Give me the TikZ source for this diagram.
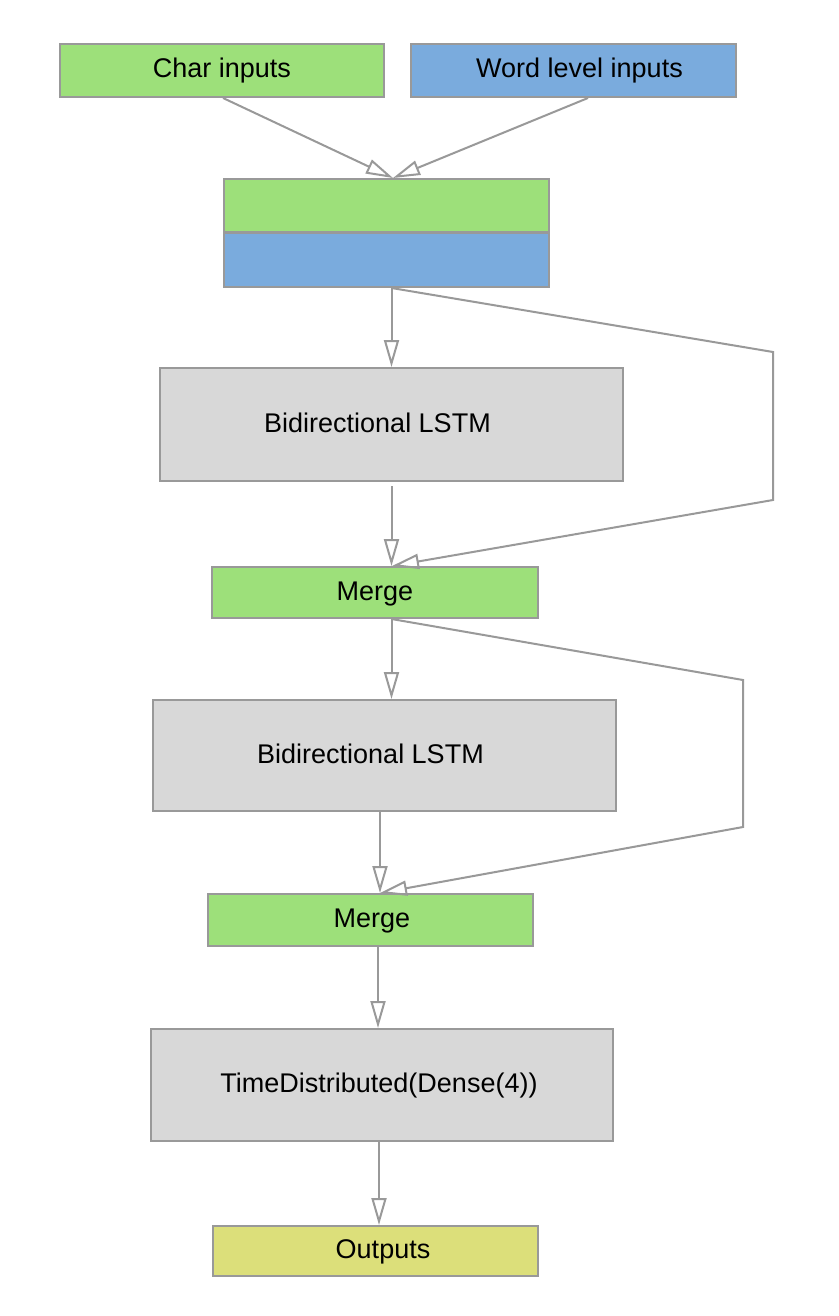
\documentclass[tikz,border=0pt]{standalone}
\usepackage{fontspec}
\setmainfont{Liberation Sans}
\usetikzlibrary{arrows.meta}
\definecolor{edgegray}{RGB}{153,153,153}
\definecolor{chargreen}{RGB}{157,224,122}
\definecolor{wordblue}{RGB}{122,171,221}
\definecolor{lstmgray}{RGB}{216,216,216}
\definecolor{outyellow}{RGB}{220,223,122}
\tikzset{
	layer/.style    = {draw=edgegray, line width=2pt, rectangle, inner sep=0pt,
		text=black, text height=20pt, text depth=5pt,
		font=\fontsize{27}{32}\selectfont},
	inbox/.style    = {layer, minimum width=325pt, minimum height=53pt},
	green/.style    = {inbox, fill=chargreen},
	blue/.style     = {inbox, fill=wordblue},
	lstm/.style     = {layer, fill=lstmgray, minimum width=463pt, minimum height=112pt},
	merge/.style    = {layer, fill=chargreen, minimum width=325pt, minimum height=51pt},
	outbox/.style   = {layer, fill=outyellow, minimum width=325pt, minimum height=50pt}
}
\newcommand{\nudge}[1]{\hspace*{#1}}

\begin{document}
\begin{tikzpicture}[x=1pt, y=-1pt, line width=2pt, edgegray, >={Triangle[open,length=27pt,width=15pt]}]
	\fill[white] (0,0) rectangle (838,1316);
	\useasboundingbox (0,0) rectangle (838,1316);
	\draw
	node at (222,70.5) [green, minimum width=324pt] (chr) {Char inputs}
	node at (573.5,70.5) [blue] (wrd) {\nudge{12pt}Word level inputs}
	node at (386.5,205.5) [green] (catg) {}
	node at (386.5,260) [blue, minimum height=54pt] (catb) {}
	node at (391.5,424.5) [lstm, minimum height=113pt] (lstmA) {\nudge{-28pt}Bidirectional LSTM}
	node at (375,592.5) [merge, minimum width=326pt] (mrgA) {Merge}
	node at (384.5,755.5) [lstm, minimum height=111pt] (lstmB) {\nudge{-28pt}Bidirectional LSTM}
	node at (370.5,920) [merge, minimum height=52pt] (mrgB) {\nudge{3pt}Merge}
	node at (382,1085) [lstm, minimum width=462pt] (dense) {\nudge{-6pt}TimeDistributed(Dense(4))}
	node at (375.5,1251) [outbox] (outp) {\nudge{15pt}Outputs};

	% fork and join points
	\coordinate (joinIn) at ([xshift=6.5pt]catg.north);
	\coordinate (forkIn) at ([xshift=5pt]catb.south);
	\coordinate (forkA) at ([xshift=16.5pt]mrgA.south);
	\coordinate (hopA) at (773,352);
	\coordinate (hopA2) at (773,500);
	\coordinate (hopB) at (743,680);
	\coordinate (hopB2) at (743,827);

	\draw[->]([xshift=1pt]chr.south)--(joinIn);
	\draw[->]([xshift=14.5pt]wrd.south)--(joinIn);
	\draw[->](forkIn)--(lstmA.north);
	\draw[->](forkIn)--(hopA)--(hopA2)--([xshift=17pt]mrgA.north);
	\draw[->]([yshift=-4pt]lstmA.south)--(lstmA.south |- mrgA.north);
	\draw[->](forkA)--(forkA |- lstmB.north);
	\draw[->](forkA)--(hopB)--(hopB2)--([xshift=9.5pt]mrgB.north);
	\draw[->]([xshift=-4.5pt]lstmB.south)--([xshift=-4.5pt]lstmB.south |- mrgB.north);
	\draw[->]([xshift=7.5pt]mrgB.south)--([xshift=7.5pt]mrgB.south |- dense.north);
	\draw[->]([xshift=-3pt]dense.south)--([xshift=-3pt]dense.south |- outp.north);
\end{tikzpicture}
\end{document}
